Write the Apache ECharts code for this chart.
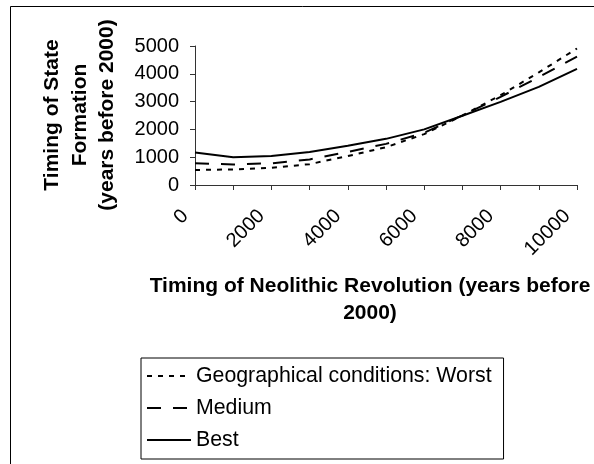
<!DOCTYPE html>
<html>
<head>
<meta charset="utf-8">
<script src="https://cdn.jsdelivr.net/npm/echarts@6/dist/echarts.min.js"></script>
<style>
  html, body { margin: 0; padding: 0; background: #fff; }
  #chart { width: 594px; height: 464px; }
</style>
</head>
<body>
<div id="chart"></div>
<script>
// years before 2000 (x), 0..10000 step 1000
const neolithic = ['0', '1000', '2000', '3000', '4000', '5000', '6000', '7000', '8000', '9000', '10000']
// timing of state formation
const worst  = [540, 560, 620, 750, 1040, 1360, 1830, 2500, 3230, 4050, 4910]
const medium = [780, 740, 780, 920, 1190, 1480, 1880, 2500, 3170, 3880, 4620]
const best   = [1170, 1000, 1040, 1190, 1410, 1660, 2000, 2490, 2990, 3530, 4180]
const seriesNames = ['Geographical conditions: Worst', 'Medium', 'Best']

const chart = echarts.init(document.getElementById('chart'))
const font = 'Liberation Sans, Arial, sans-serif'

function lineSeries(name, data, type) {
  return {
    name: name,
    type: 'line',
    data: data,
    symbol: 'none',
    smooth: false,
    itemStyle: { color: '#000' },
    lineStyle: { color: '#000', width: 2, type: type },
    animation: false
  }
}

chart.setOption({
  backgroundColor: '#fff',
  animation: false,
  textStyle: { fontFamily: font, color: '#000' },
  grid: { left: 195, right: 17, top: 46, bottom: 279, containLabel: false },
  xAxis: {
    type: 'category',
    data: neolithic,
    boundaryGap: false,
    axisLine: { lineStyle: { color: '#333', width: 1 } },
    axisTick: { show: true, interval: 0, length: 5, lineStyle: { color: '#333' } },
    axisLabel: {
      interval: 1, rotate: 45, margin: 18, fontSize: 20, color: '#000', fontFamily: font,
      padding: [0, 14, 0, 0]
    }
  },
  yAxis: {
    type: 'value',
    min: 0,
    max: 5000,
    interval: 1000,
    axisLine: { show: true, lineStyle: { color: '#333', width: 1 } },
    axisTick: { show: true, length: 5, lineStyle: { color: '#333' } },
    splitLine: { show: false },
    axisLabel: { margin: 16, fontSize: 20, color: '#000', fontFamily: font, formatter: v => String(v) }
  },
  legend: {
    orient: 'vertical',
    left: 141,
    top: 358,
    padding: [6, 12, 7, 5],
    itemGap: 8,
    itemWidth: 44,
    itemHeight: 14,
    borderColor: '#000',
    borderWidth: 1,
    itemStyle: { opacity: 0 },
    data: seriesNames,
    textStyle: { fontSize: 21.3, color: '#000', fontFamily: font, lineHeight: 24 }
  },
  graphic: [
    {
      type: 'rect',
      shape: { x: 10.5, y: 6.5, width: 620, height: 480 },
      style: { fill: 'none', stroke: '#000', lineWidth: 1 },
      silent: true
    },
    {
      type: 'text',
      x: 80,
      y: 115,
      rotation: Math.PI / 2,
      style: {
        text: 'Timing of State\nFormation\n(years before 2000)',
        font: 'bold 21px ' + font,
        fill: '#000',
        align: 'center',
        verticalAlign: 'middle',
        lineHeight: 27.5
      }
    },
    {
      type: 'text',
      x: 370,
      y: 300,
      style: {
        text: 'Timing of Neolithic Revolution (years before\n2000)',
        font: 'bold 21px ' + font,
        fill: '#000',
        align: 'center',
        verticalAlign: 'middle',
        lineHeight: 27
      }
    }
  ],
  series: [
    lineSeries(seriesNames[0], worst, [5, 6]),
    lineSeries(seriesNames[1], medium, [14, 12]),
    lineSeries(seriesNames[2], best, 'solid')
  ]
})
</script>
</body>
</html>
